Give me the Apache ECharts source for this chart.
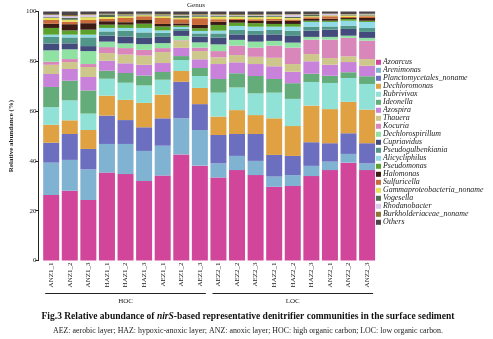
<!DOCTYPE html>
<html><head><meta charset="utf-8">
<script src="https://cdn.jsdelivr.net/npm/echarts@6/dist/echarts.min.js"></script>
<style>html,body{margin:0;padding:0;background:#fff}#c{width:493px;height:339px}</style>
</head><body><div id="c"></div>
<script>
const samples = ['ANZ1_1','ANZ1_2','ANZ1_3','HAZ1_1','HAZ1_2','HAZ1_3','AEZ1_1','AEZ1_2','AEZ1_3','AEZ2_1','AEZ2_2','AEZ2_3','HAZ2_1','HAZ2_2','HAZ2_3','ANZ2_1','ANZ2_2','ANZ2_3'];
const genera = ['Azoarcus','Arenimonas','Planctomycetales_noname','Dechloromonas','Rubrivivax','Ideonella','Azospira','Thauera','Kocuria','Dechlorospirillum','Cupriavidus','Pseudogulbenkiania','Alicycliphilus','Pseudomonas','Halomonas','Sulfuricella','Gammaproteobacteria_noname','Vogesella','Rhodanobacter','Burkholderiaceae_noname','Others'];
const colors = ['#d1469b','#80b2d1','#6c6fc0','#dfa142','#90e2d6','#64ad7a','#c882d9','#cec78c','#d987bb','#90e2a2','#434b7c','#519688','#91dae7','#5ca12c','#3c1b15','#c96b3b','#e6e15c','#4f6b52','#dac7ea','#8b7632','#4b4449'];
// values (%) per genus, one entry per sample
const Azoarcus = [26.3,28.0,24.3,35.3,34.7,31.9,34.1,42.6,38.1,33.3,36.3,34.3,29.6,29.9,33.9,36.3,39.3,36.3];
const Arenimonas = [13.0,12.4,12.3,11.5,12.1,12.1,12.0,14.5,14.3,5.7,5.7,5.7,4.1,4.4,4.1,3.4,3.5,2.7];
const Planctomycetales_noname = [8.0,10.4,8.2,11.4,9.6,9.5,11.0,14.7,10.4,11.4,8.8,10.8,8.7,7.7,9.5,7.4,8.3,8.1];
const Dechloromonas = [7.2,5.5,7.6,8.0,8.1,9.8,9.5,4.3,6.5,7.4,9.6,7.6,14.7,12.0,14.7,13.7,12.6,13.5];
const Rubrivivax = [7.1,8.0,6.6,6.8,6.9,7.0,6.0,4.4,4.8,9.6,9.1,8.7,10.3,10.9,9.5,10.5,9.6,10.3];
const Ideonella = [8.1,7.9,9.3,3.2,3.9,4.0,3.1,1.6,3.2,5.5,5.7,7.0,5.5,6.3,3.3,2.9,2.3,3.1];
const Azospira = [5.2,4.7,5.4,4.0,3.9,4.3,3.6,3.3,3.5,6.0,4.4,4.8,5.1,4.6,5.0,4.4,4.1,4.2];
const Thauera = [3.7,2.8,4.0,3.1,3.5,3.7,4.4,2.9,3.3,2.7,2.9,2.9,3.4,3.1,2.9,2.7,2.3,2.7];
const Kocuria = [1.2,1.2,1.2,2.4,2.6,2.3,1.6,0.2,1.4,2.5,3.8,3.7,4.9,6.6,5.8,7.4,7.4,7.4];
const Dechlorospirillum = [4.6,3.9,5.2,2.2,1.9,2.3,2.0,1.7,2.1,2.7,2.3,2.4,1.9,2.0,1.1,1.1,0.9,1.1];
const Cupriavidus = [2.7,2.4,2.0,2.4,2.7,2.5,2.5,2.0,2.3,2.7,2.2,2.7,2.6,2.7,2.5,2.9,2.7,2.4];
const Pseudogulbenkiania = [2.7,2.4,3.5,1.7,2.4,2.2,1.6,0.8,1.3,1.7,1.8,1.7,1.8,2.1,1.6,1.3,1.3,1.6];
const Alicycliphilus = [0.9,1.1,1.1,1.4,1.1,1.8,1.0,0.8,1.0,1.1,1.6,1.6,1.3,1.6,1.9,1.8,2.0,2.4];
const Pseudomonas = [2.7,1.7,2.0,1.3,1.3,1.7,1.6,0.6,1.1,2.3,1.3,1.4,1.1,1.1,0.5,0.5,0.7,0.5];
const Halomonas = [1.7,2.5,2.6,1.4,1.0,1.5,1.0,0.8,1.3,1.3,1.1,0.9,1.3,1.2,0.7,0.8,0.4,1.1];
const Sulfuricella = [1.5,1.0,1.3,0.9,1.7,1.5,2.4,1.7,2.7,1.0,0.4,0.7,0.7,0.6,0.7,1.0,0.4,0.7];
const Gammaproteobacteria_noname = [0.8,0.8,1.1,0.8,0.7,0.4,0.7,0.6,0.6,1.0,0.9,0.8,0.9,0.6,0.4,0.3,0.6,0.3];
const Vogesella = [0.3,0.7,0.2,0.9,0.4,0.3,0.4,0.8,0.6,0.5,0.5,0.5,0.5,0.4,0.5,0.1,0.2,0.3];
const Rhodanobacter = [0.9,0.7,0.8,0.1,0.2,0.1,0.2,0.2,0.2,0.3,0.2,0.3,0.3,1.0,0.1,0.5,0.2,0.2];
const Burkholderiaceae_noname = [0.3,0.5,0.3,0.3,0.3,0.2,0.3,0.4,0.3,0.3,0.4,0.4,0.3,0.2,0.2,0.2,0.2,0.2];
const Others = [1.1,1.4,1.0,0.9,1.0,0.9,1.0,1.1,1.0,1.0,1.0,1.1,1.0,1.0,1.1,0.8,1.0,1.0];
const seriesValues = [Azoarcus,Arenimonas,Planctomycetales_noname,Dechloromonas,Rubrivivax,Ideonella,Azospira,Thauera,Kocuria,Dechlorospirillum,Cupriavidus,Pseudogulbenkiania,Alicycliphilus,Pseudomonas,Halomonas,Sulfuricella,Gammaproteobacteria_noname,Vogesella,Rhodanobacter,Burkholderiaceae_noname,Others];
const yTicks = [0,20,40,60,80,100];
const groups = [{name:'HOC', from:0, to:8},{name:'LOC', from:9, to:17}];
const captionMain = ['Fig.3 Relative abundance of ', 'nirS', '-based representative denitrifier communities in the surface sediment'];
const captionSub = 'AEZ: aerobic layer; HAZ: hypoxic-anoxic layer; ANZ: anoxic layer; HOC: high organic carbon; LOC: low organic carbon.';

const SERIF = 'Liberation Serif';
const chart = echarts.init(document.getElementById('c'), null, {renderer:'canvas'});
const option = {
  animation:false,
  backgroundColor:'#fff',
  color: colors,
  title:[
    {text:'Genus', left:196, top:1, padding:0, textAlign:'center', textStyle:{fontFamily:SERIF, fontSize:7, lineHeight:8, fontWeight:'normal', color:'#222'}},
  ],
  grid:{left:37.6, right:116.6, top:11.5, bottom:78.5, containLabel:false},
  legend:{
    orient:'vertical', left:376, top:58.3, itemWidth:5, itemHeight:5, itemGap:0, padding:0,
    icon:'rect', selectedMode:false,
    textStyle:{fontFamily:SERIF, fontSize:7.9, lineHeight:7.95, color:'#222', fontStyle:'italic', padding:[0,0,0,-3]},
    data: genera
  },
  xAxis:{
    type:'category', data:samples,
    axisLine:{show:false}, axisTick:{show:false},
    axisLabel:{rotate:90, interval:0, fontFamily:SERIF, fontSize:7, color:'#222', margin:2}
  },
  yAxis:{
    type:'value', min:0, max:100, interval:20, offset:3.5,
    name:'Relative abundance (%)', nameLocation:'middle', nameGap:18,
    nameTextStyle:{fontFamily:SERIF, fontSize:7, fontWeight:'bold', color:'#222'},
    axisLine:{show:true, lineStyle:{color:'#222', width:1}},
    axisTick:{show:true, length:3, lineStyle:{color:'#222'}},
    axisLabel:{fontFamily:SERIF, fontSize:7, color:'#222', margin:2,
      formatter: v => yTicks.includes(v) ? String(v) : ''},
    splitLine:{show:false}
  },
  series: genera.map((g,i)=>({
    name:g, type:'bar', stack:'total', barWidth:16,
    data: seriesValues[i],
    itemStyle:{color:colors[i]}
  }))
};
chart.setOption(option);

// group brackets and captions
const gfx = [];
groups.forEach(gr=>{
  const x0 = chart.convertToPixel({xAxisIndex:0}, samples[gr.from]) - 6;
  const x1 = chart.convertToPixel({xAxisIndex:0}, samples[gr.to]) + 6;
  gfx.push({type:'line', shape:{x1:x0, y1:293.5, x2:x1, y2:293.5}, style:{stroke:'#222', lineWidth:1}});
  gfx.push({type:'text', x:(x0+x1)/2, y:298, style:{text:gr.name, font:'7px "Liberation Serif"', fill:'#222', textAlign:'center', textVerticalAlign:'top'}});
});
gfx.push({type:'text', x:248, y:311.5, style:{
  text:'{b|'+captionMain[0]+'}{bi|'+captionMain[1]+'}{b|'+captionMain[2]+'}',
  textAlign:'center', textVerticalAlign:'top',
  rich:{
    b:{fontFamily:SERIF, fontSize:9.5, fontWeight:'bold', fill:'#111'},
    bi:{fontFamily:SERIF, fontSize:9.5, fontWeight:'bold', fontStyle:'italic', fill:'#111'}
  }}});
gfx.push({type:'text', x:248, y:327, style:{text:captionSub, font:'7.9px "Liberation Serif"', fill:'#222', textAlign:'center', textVerticalAlign:'top'}});
chart.setOption({graphic:gfx});
</script>
</body></html>
